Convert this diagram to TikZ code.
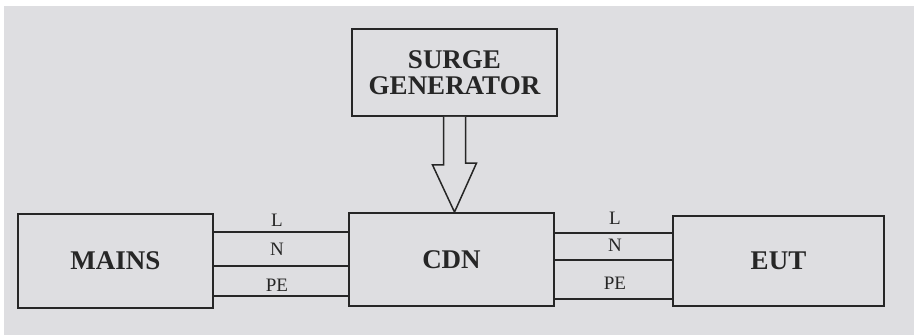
\documentclass[tikz,border=0pt]{standalone}
\usepackage{fontspec}
\setmainfont{Liberation Serif}
\usepackage{tikz}
\usetikzlibrary{calc}
\definecolor{paperc}{HTML}{DEDEE1}
\definecolor{inkc}{HTML}{262626}
\tikzset{
  blk/.style={draw=inkc,line width=1.8pt,fill=paperc,align=center,inner sep=0pt,
    font=\fontsize{27}{26}\selectfont\bfseries,text=inkc},
  wire/.style={draw=inkc,line width=1.8pt},
  lbl/.style={font=\fontsize{19}{20}\selectfont,text=inkc,inner sep=0pt}
}
\begin{document}
\begin{tikzpicture}[x=1pt,y=1pt]
\useasboundingbox (0,0) rectangle (914,335);
\fill[paperc] (4,0) rectangle (914,329);
% blocks
\node[blk,minimum width=205,minimum height=87] (surge) at (454.5,262.5) {SURGE\\GENERATOR};
\node[blk,minimum width=195,minimum height=94] (mains) at (115.5,74) {MAINS};
\node[blk,minimum width=205,minimum height=93] (cdn) at (451.5,75.5) {CDN};
\node[blk,minimum width=211,minimum height=90] (eut) at (778.5,74) {EUT};
% hollow arrow
\draw[line width=1.5pt,draw=inkc,fill=paperc] ($(surge.south)+(-11,0)$) -- ++(0,-48) -- ++(-11,0)
  -- (surge.south |- cdn.north) -- ++(22,49) -- ++(-11,0) -- ($(surge.south)+(11,0)$);
% wires
\foreach \nm/\yy in {l/103,n/69,pe/39}
  \draw[wire] (mains.east |- 0,\yy) -- (cdn.west |- 0,\yy);
\foreach \nm/\yy in {l/102,n/75,pe/36}
  \draw[wire] (cdn.east |- 0,\yy) -- (eut.west |- 0,\yy);
% wire labels
\node[lbl] (ll) at (277,115) {L};
\node[lbl] (ln) at (277,86) {N};
\node[lbl] (lpe) at (277,50) {PE};
\node[lbl] (rl) at (615,117) {L};
\node[lbl] (rn) at (615,90) {N};
\node[lbl] (rpe) at (615,52) {PE};
\end{tikzpicture}
\end{document}
